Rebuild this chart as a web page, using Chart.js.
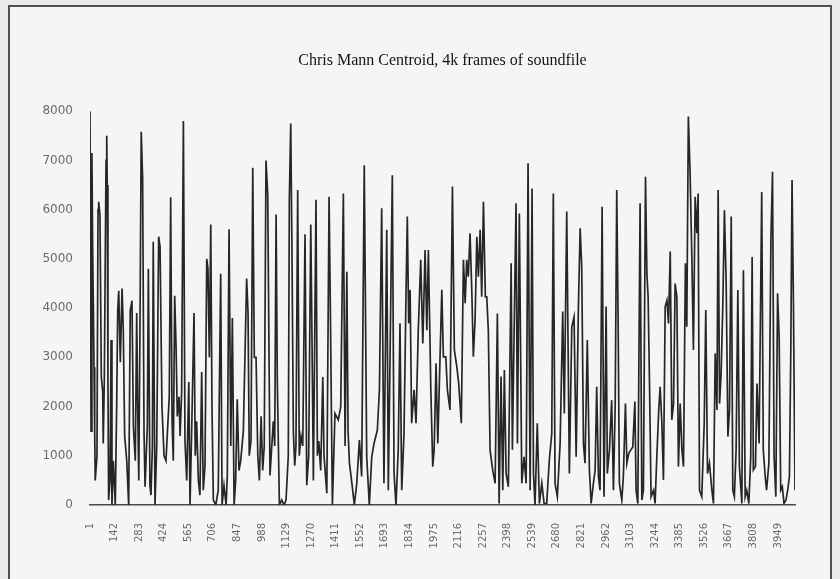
<!DOCTYPE html>
<html><head><meta charset="utf-8">
<script src="https://cdn.jsdelivr.net/npm/chart.js@4.4.0/dist/chart.umd.min.js"></script>
<style>
html,body{margin:0;padding:0;background:#ebebeb;}
#wrap{position:relative;width:840px;height:579px;overflow:hidden;}
#frame{position:absolute;left:8px;top:5px;width:820px;height:600px;border:2px solid #505050;background:#f5f5f5;}
canvas{position:absolute;left:0;top:0;}
</style></head><body>
<div id="wrap"><div id="frame"></div><canvas id="c" width="840" height="579"></canvas></div>
<script>
const chartTitle = 'Chris Mann Centroid, 4k frames of soundfile';
const xTicks = [1,142,283,424,565,706,847,988,1129,1270,1411,1552,1693,1834,1975,2116,2257,2398,2539,2680,2821,2962,3103,3244,3385,3526,3667,3808,3949];
const yTicks = [0,1000,2000,3000,4000,5000,6000,7000,8000];
const frames = [
1,7,12,16,20,24,28,31,41,47,
51,58,66,74,77,83,93,97,100,104,
108,116,122,127,135,140,146,154,160,166,
175,185,192,200,212,223,232,242,250,261,
269,275,281,288,295,303,311,317,330,336,
345,351,359,364,374,384,395,403,414,426,
437,447,456,464,472,479,487,495,502,512,
518,527,537,546,556,568,575,585,598,605,
613,623,632,642,651,661,671,678,686,694,
701,709,723,737,751,759,770,782,789,799,
809,818,828,837,846,856,866,881,900,908,
915,925,935,944,954,964,973,983,992,1001,
1011,1021,1034,1053,1061,1069,1076,1088,1101,1115,
1126,1139,1145,1153,1160,1168,1176,1183,1193,1202,
1212,1222,1229,1235,1245,1256,1268,1273,1283,1298,
1306,1314,1325,1337,1344,1360,1373,1381,1392,1407,
1426,1440,1455,1465,1475,1482,1490,1504,1518,1532,
1547,1560,1575,1589,1604,1618,1631,1650,1662,1675,
1688,1704,1713,1723,1736,1746,1757,1770,1780,1790,
1803,1815,1822,1830,1838,1847,1861,1872,1885,1899,
1911,1924,1934,1943,1957,1968,1976,1987,1997,2010,
2020,2029,2043,2052,2067,2081,2092,2106,2117,2132,
2144,2154,2163,2172,2182,2192,2201,2211,2221,2230,
2240,2249,2259,2270,2278,2287,2297,2312,2326,2339,
2349,2360,2370,2379,2389,2402,2418,2425,2446,2454,
2465,2479,2492,2504,2515,2527,2538,2546,2555,2568,
2580,2594,2607,2622,2637,2651,2660,2670,2683,2699,
2714,2723,2737,2752,2766,2779,2791,2804,2814,2823,
2833,2842,2855,2867,2877,2890,2900,2909,2919,2928,
2940,2951,2963,2970,2982,2995,3005,3015,3024,3032,
3039,3053,3062,3074,3082,3093,3105,3116,3128,3135,
3145,3158,3168,3177,3189,3197,3204,3212,3221,3235,
3244,3254,3265,3273,3283,3292,3302,3312,3321,3331,
3340,3350,3359,3369,3378,3388,3398,3407,3418,3426,
3435,3445,3455,3464,3474,3484,3491,3499,3512,3526,
3535,3545,3556,3570,3579,3589,3599,3606,3614,3623,
3633,3642,3652,3662,3671,3681,3690,3699,3709,3719,
3728,3742,3751,3761,3770,3782,3793,3801,3808,3820,
3829,3841,3856,3865,3876,3884,3897,3909,3918,3927,
3937,3947,3956,3965,3974,3984,3995,4005,4015,4023,
4030,4038,4047];
const centroid = [
8000,1500,7150,5300,4100,2800,1450,500,1000,6000,
6160,5900,2600,2300,1250,2500,7000,7500,6500,2500,
100,500,3350,0,900,500,0,2000,3950,4350,
2900,4400,3550,1400,900,0,3950,4150,1600,900,
3900,1900,500,3700,7580,6650,1500,370,1600,4800,
400,200,1200,5350,0,1200,5450,5250,2000,1000,
900,1600,2200,6250,1700,900,4250,3200,1800,2200,
1400,2300,7800,1300,500,2500,0,1600,3900,1000,
1700,500,200,2700,300,800,5000,4800,3000,5700,
2000,100,0,300,4700,0,400,0,600,5600,
1200,3800,0,500,2150,700,900,1500,4600,3900,
1000,1300,6850,3000,3000,1000,500,1800,700,1200,
7000,6300,600,1700,1200,5900,2500,0,100,0,
100,1000,6200,7750,5200,1500,800,1200,6400,1000,
1400,1200,3500,5500,400,1000,5700,4100,500,6200,
1000,1300,700,2600,1000,240,6260,3800,0,1860,
1730,2000,6330,1200,4740,1500,850,440,0,440,
1320,580,6900,980,0,980,1250,1520,2340,6030,
440,5590,300,3010,6700,640,0,1120,3690,300,
1450,4370,5860,3690,4370,1660,2340,1660,3550,4980,
3280,5180,3550,5180,2340,780,1120,2880,1250,3010,
4370,3010,3010,2340,1930,6470,3150,2810,2470,1660,
4980,4100,4980,4640,5520,4370,3010,3760,5450,4640,
5590,4230,6160,4230,4230,3550,1120,710,440,3890,
30,2610,300,2740,640,370,4910,1120,6130,1250,
5920,440,980,440,6940,300,6430,640,0,1660,
30,440,30,30,910,1450,6330,440,170,1250,
3930,1860,5960,640,3620,3820,980,4030,5620,4840,
1250,850,3350,710,30,440,710,2400,580,300,
6060,170,4030,640,1120,2130,300,2000,6400,3690,
440,100,580,2060,850,1050,1120,1180,2100,300,
30,6130,100,300,6670,4700,4230,2470,170,300,
30,980,1930,2400,1660,510,4030,4160,3690,5150,
1730,2060,4500,4230,780,2060,1120,780,4910,3620,
7890,6740,5040,3150,6260,5520,6330,300,170,1660,
3960,640,850,300,30,3080,1930,6400,2060,2670,
4100,5990,4500,1390,1930,5860,300,170,1120,4370,
780,30,4770,170,300,30,980,5040,710,780,
2470,1250,6360,1120,580,300,850,5450,6770,980,
170,4300,3420,300,370,30,100,300,580,3150,
6600,4100,300];

const points = frames.map((f, i) => ({x: f, y: centroid[i]}));

new Chart(document.getElementById('c'), {
  type: 'line',
  data: { datasets: [{
    data: points,
    borderColor: '#262626',
    borderWidth: 1.7,
    pointRadius: 0,
    tension: 0,
    fill: false
  }]},
  options: {
    responsive: false,
    animation: false,
    devicePixelRatio: 1,
    parsing: false,
    layout: { padding: { left: 0, right: 45, top: 0, bottom: 0 } },
    plugins: {
      legend: { display: false },
      tooltip: { enabled: false },
      title: {
        display: true,
        text: chartTitle,
        fullSize: false,
        color: '#141414',
        font: { family: 'Liberation Serif', size: 16, weight: 'normal' },
        padding: { top: 51, bottom: 41 }
      }
    },
    scales: {
      x: {
        type: 'linear',
        min: xTicks[0],
        max: frames[frames.length - 1],
        afterBuildTicks: s => { s.ticks = xTicks.map(v => ({ value: v })); },
        afterFit: s => { s.height = 74; },
        ticks: {
          autoSkip: false, maxRotation: 90, minRotation: 90, padding: 18,
          color: '#6a6a6a', font: { family: 'DejaVu Sans', size: 10 },
          callback: v => String(v)
        },
        grid: { display: false, drawTicks: false },
        border: { display: true, color: '#4a4a4a', width: 1.5 }
      },
      y: {
        min: yTicks[0],
        max: yTicks[yTicks.length - 1],
        afterBuildTicks: s => { s.ticks = yTicks.map(v => ({ value: v })); },
        afterFit: s => { s.width = 90; },
        ticks: {
          padding: 17, color: '#6a6a6a', font: { family: 'DejaVu Sans', size: 12 },
          callback: v => String(v)
        },
        grid: { display: false, drawTicks: false },
        border: { display: false }
      }
    }
  }
});
</script>
</body></html>
